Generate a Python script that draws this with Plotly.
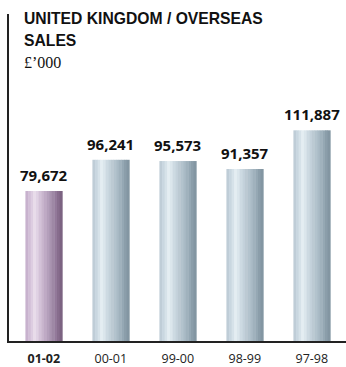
import plotly.graph_objects as go

categories = ["01-02", "00-01", "99-00", "98-99", "97-98"]
values = [79672, 96241, 95573, 91357, 111887]
value_labels = ["79,672", "96,241", "95,573", "91,357", "111,887"]
tick_labels = ["<b>01-02</b>", "00-01", "99-00", "98-99", "97-98"]

blue_stops = ["#bfcdd7", "#c9d7e0", "#d6e2e9", "#e4edf2", "#dbe6ec", "#cddae2",
              "#c4d2db", "#bccad3", "#b3c3cd", "#aabbc6", "#a0b2bd", "#95a8b4",
              "#8b9eaa", "#8396a2"]
purple_stops = ["#c8b2ce", "#d2bfd7", "#ddcde1", "#e8dcea", "#e0d2e4", "#d3c2d8",
                "#c9b6ce", "#bfaac5", "#b49fbb", "#a994b0", "#9e88a5", "#93799a",
                "#876d8d", "#7c6382"]

bar_w = 0.55
n = len(blue_stops)
xs = list(range(len(categories)))

fig = go.Figure()
for k in range(n):
    cols = [purple_stops[k]] + [blue_stops[k]] * (len(categories) - 1)
    fig.add_trace(go.Bar(
        x=xs, y=values,
        width=bar_w / n * 1.15,
        offset=-bar_w / 2 + k * bar_w / n,
        marker=dict(color=cols, line=dict(width=0)),
        hoverinfo="skip", showlegend=False,
    ))

for i, (v, lab) in enumerate(zip(values, value_labels)):
    fig.add_annotation(x=i, y=v, text=f"<b>{lab}</b>", showarrow=False,
                       yanchor="bottom", yshift=4,
                       font=dict(family="Open Sans", size=15, color="#111"))

title_font = dict(family="Liberation Sans, Arial", size=15.7, color="#111")
fig.add_annotation(xref="paper", yref="paper", x=0.04, y=1.0, xanchor="left", yanchor="middle",
                   yshift=-4, text="<b>UNITED KINGDOM / OVERSEAS</b>", showarrow=False, font=title_font)
fig.add_annotation(xref="paper", yref="paper", x=0.04, y=1.0, xanchor="left", yanchor="middle",
                   yshift=-26, text="<b>SALES</b>", showarrow=False, font=title_font)
fig.add_annotation(xref="paper", yref="paper", x=0.04, y=1.0, xanchor="left", yanchor="middle",
                   yshift=-48, text="£’000", showarrow=False,
                   font=dict(family="Liberation Serif, serif", size=16, color="#111"))

fig.update_layout(
    width=346, height=367,
    margin=dict(l=9, r=0, t=14, b=26),
    barmode="overlay",
    plot_bgcolor="white", paper_bgcolor="white",
    xaxis=dict(range=[-0.52, 4.51], tickmode="array", tickvals=xs, ticktext=tick_labels,
               showline=True, linecolor="#222", linewidth=1.5, ticks="", showgrid=False,
               zeroline=False, ticklabelstandoff=5, automargin=False,
               tickfont=dict(family="Open Sans", size=12.5, color="#222")),
    yaxis=dict(range=[0, 173660], showline=True, linecolor="#222", linewidth=1.5,
               showticklabels=False, ticks="", showgrid=False, zeroline=False, automargin=False),
)

fig.write_html("out.html")
